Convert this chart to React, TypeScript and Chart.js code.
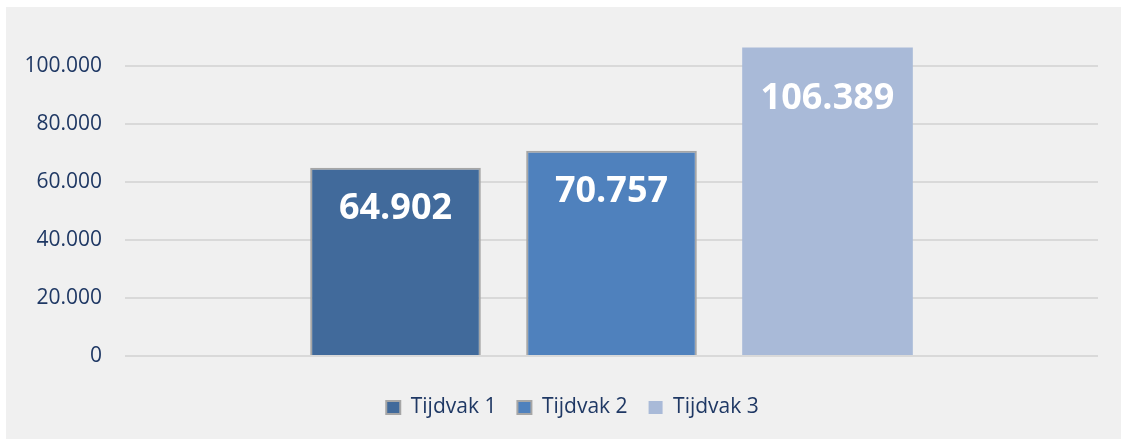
import React, { useEffect, useRef } from "react";
import { Chart, registerables } from "chart.js";

Chart.register(...registerables);

const categories = [""];
const seriesNames = ["Tijdvak 1", "Tijdvak 2", "Tijdvak 3"];
const tijdvak1 = [64902];
const tijdvak2 = [70757];
const tijdvak3 = [106389];
const yTickValues = [0, 20000, 40000, 60000, 80000, 100000];

const seriesValues = [tijdvak1, tijdvak2, tijdvak3];
const seriesColors = ["#416A9B", "#4F81BD", "#A9BAD8"];
const seriesBorderColors = ["#A6A6A6", "#A6A6A6", "#A9BAD8"];
const seriesBorderWidths = [2, 2, 0];
const labelOffsets = [41, 41, 51];

const TEXT = "#1F3864";
const FONT = "'Open Sans', 'Noto Sans', sans-serif";

const fmt = (v: number) =>
  String(Math.round(v)).replace(/\B(?=(\d{3})+(?!\d))/g, ".");

const valueLabels = {
  id: "valueLabels",
  afterDatasetsDraw(chart: any) {
    const ctx = chart.ctx;
    chart.data.datasets.forEach((ds: any, i: number) => {
      const meta = chart.getDatasetMeta(i);
      meta.data.forEach((bar: any, j: number) => {
        const v = ds.data[j] as number;
        ctx.save();
        ctx.font = `bold 36px ${FONT}`;
        ctx.fillStyle = "#FFFFFF";
        ctx.textAlign = "center";
        ctx.textBaseline = "middle";
        ctx.fillText(fmt(v), bar.x, bar.y + labelOffsets[i]);
        ctx.restore();
      });
    });
  },
};

const LEGEND_GAP = 20;
const LEGEND_SHIFT_X = 11;

const legendSpacing = {
  id: "legendSpacing",
  beforeInit(chart: any) {
    const legend = chart.legend;
    if (!legend) return;
    const origFit = legend.fit;
    legend.fit = function () {
      origFit.call(this);
      this.height += LEGEND_GAP;
    };
  },
  afterLayout(chart: any) {
    const legend = chart.legend;
    if (!legend) return;
    legend.top += LEGEND_GAP;
    legend.bottom += LEGEND_GAP;
    legend.left += LEGEND_SHIFT_X;
    legend.right += LEGEND_SHIFT_X;
  },
};

export default function App() {
  const canvasRef = useRef<HTMLCanvasElement | null>(null);

  useEffect(() => {
    const canvas = canvasRef.current;
    if (!canvas) return;
    const chart = new Chart(canvas, {
      type: "bar",
      data: {
        labels: categories,
        datasets: seriesNames.map((name, i) => ({
          label: name,
          data: seriesValues[i],
          backgroundColor: seriesColors[i],
          borderColor: seriesBorderColors[i],
          borderWidth: seriesBorderWidths[i],
          categoryPercentage: 0.666,
          barPercentage: 0.79,
        })),
      },
      options: {
        responsive: false,
        animation: false,
        layout: { padding: { left: 19, right: 23, top: 30, bottom: 11 } },
        scales: {
          x: { display: false },
          y: {
            min: 0,
            max: 110000,
            afterBuildTicks(scale: any) {
              scale.ticks = yTickValues.map((v) => ({ value: v }));
            },
            afterFit(scale: any) {
              scale.width = 100;
              scale.paddingTop = 0;
              scale.paddingBottom = 0;
            },
            border: { display: false },
            grid: { color: "#D9D9D9", lineWidth: 2, drawTicks: false },
            ticks: {
              padding: 23,
              color: TEXT,
              font: { family: FONT, size: 21 },
              callback: (v: any) => fmt(Number(v)),
            },
          },
        },
        plugins: {
          legend: {
            position: "bottom",
            labels: {
              boxWidth: 14,
              boxHeight: 13,
              padding: 21,
              color: TEXT,
              font: { family: FONT, size: 21 },
            },
          },
          tooltip: { enabled: false },
          title: { display: false },
        },
      },
      plugins: [valueLabels, legendSpacing],
    });
    return () => chart.destroy();
  }, []);

  return (
    <div
      style={{
        position: "fixed",
        left: 0,
        top: 0,
        width: 1121,
        height: 439,
        background: "#FFFFFF",
      }}
    >
      <div
        style={{
          position: "absolute",
          left: 6,
          top: 7,
          width: 1115,
          height: 432,
          background: "#F0F0F0",
        }}
      >
        <canvas ref={canvasRef} width={1115} height={432} style={{ display: "block" }} />
      </div>
    </div>
  );
}
